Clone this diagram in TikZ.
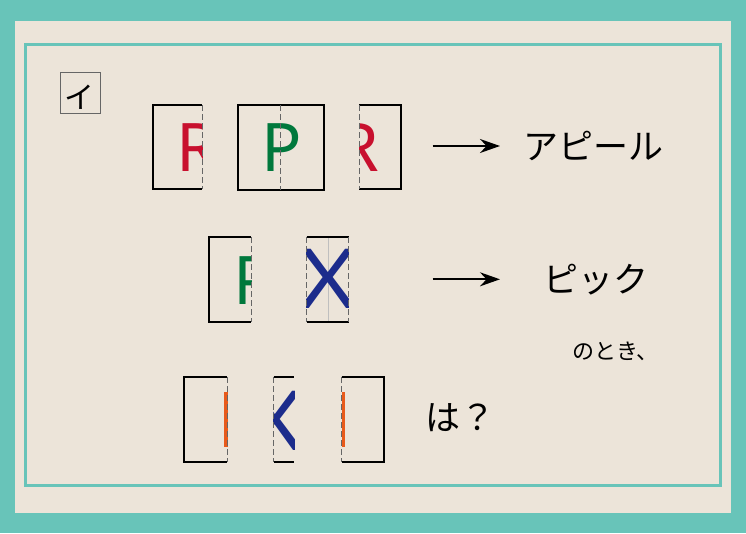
\documentclass[tikz,border=0pt]{standalone}
\usepackage{fontspec}
\setmainfont{Noto Sans}
\newfontfamily\jpfont{Noto Sans CJK JP}
\usepackage{tikz}
\usetikzlibrary{arrows.meta,positioning}
\definecolor{cteal}{HTML}{68C4B9}
\definecolor{cpaper}{HTML}{ECE4D9}
\definecolor{cr}{HTML}{C8102E}
\definecolor{cg}{HTML}{00783C}
\definecolor{cb}{HTML}{1C2C8C}
\definecolor{co}{HTML}{E85A1B}

\begin{document}
\begin{tikzpicture}[
  x=1pt,y=-1pt,>=Stealth,
  card/.style={black,line width=1.7pt},
  fold/.style={black!60,line width=0.8pt,dash pattern=on 6pt off 3pt},
  ltr/.style={inner sep=0pt,anchor=base west,font=\fontsize{67}{67}\selectfont},
  bigx/.style={inner sep=0pt,anchor=base,font=\fontsize{83}{83}\selectfont,cb},
  jp/.style={inner sep=0pt,anchor=west,font=\jpfont\fontsize{35}{35}\selectfont},
  jpsmall/.style={inner sep=0pt,anchor=west,font=\jpfont\fontsize{22}{22}\selectfont},
  edge/.style={-{Stealth[length=20pt,width=14pt]},line width=1.7pt}
]
  \useasboundingbox (0,0) rectangle (746,533);
  % Frame and paper
  \fill[cteal] (0,0) rectangle (746,533);
  \fill[cpaper] (15,21) rectangle (730.7,512.7);
  \draw[cteal,line width=3pt] (25,44) rectangle (720,485);

  % Label
  \node[draw=black!60,line width=0.7pt,minimum width=40.7pt,minimum height=40.6pt,inner sep=0pt] (lbl) at (80.3,93) {};
  \node[inner sep=0pt,font=\jpfont\fontsize{30}{30}\selectfont] (lbltxt) at (79.5,97) {イ};

  % Top row -- three cards
  \begin{scope}
    \clip (152.7,105) rectangle (202,189.3);
    \node[ltr,cr] (r1) at (176.5,171) {R};
  \end{scope}
  \draw[card] (202,105) -- (152.7,105) -- (152.7,189.3) -- (202,189.3);
  \draw[fold] (202,105) -- (202,189.3);

  \node[ltr,cg] (p1) at (261.7,171) {P};
  \draw[card] (237.7,105) rectangle (323.7,189.7);
  \draw[fold] (280.3,105) -- (280.3,189.7);

  \begin{scope}
    \clip (359.3,105) rectangle (401,189.3);
    \node[ltr,cr] (r2) at (337,171) {R};
  \end{scope}
  \draw[card] (359.3,105) -- (401,105) -- (401,189.3) -- (359.3,189.3);
  \draw[fold] (359.3,105) -- (359.3,189.3);

  % Middle row -- two cards
  \begin{scope}
    \clip (208.7,237.3) rectangle (251.3,322);
    \node[ltr,cg] (p2) at (233,304) {P};
  \end{scope}
  \draw[card] (251.3,237.3) -- (208.7,237.3) -- (208.7,322) -- (251.3,322);
  \draw[fold] (251.3,237.3) -- (251.3,322);

  \draw[black!25,line width=0.8pt] (328.3,237.3) -- (328.3,322);
  \begin{scope}
    \clip (306.7,237.3) rectangle (348.7,322);
    \node[bigx] (x1) at (328,308) {\scalebox{1.18}[1]{X}};
  \end{scope}
  \draw[card] (306.7,237.3) -- (348.7,237.3);
  \draw[card] (306.7,322) -- (348.7,322);
  \draw[fold] (306.7,237.3) -- (306.7,322);
  \draw[fold] (348.7,237.3) -- (348.7,322);

  % Bottom row -- three cards
  \fill[co] (224,391.7) rectangle (228.3,446.7);
  \draw[card] (227.3,377.3) -- (184.3,377.3) -- (184.3,462.3) -- (227.3,462.3);
  \draw[fold] (227.3,377.3) -- (227.3,462.3);

  \begin{scope}
    \clip (273.7,377.3) rectangle (294.3,462.3);
    \node[bigx] (x2) at (275.5,450) {\scalebox{1.18}[1]{X}};
  \end{scope}
  \draw[card] (273.7,377.3) -- (294.3,377.3);
  \draw[card] (273.7,462.3) -- (294.3,462.3);
  \draw[fold] (273.7,377.3) -- (273.7,462.3);

  \fill[co] (341.7,391.7) rectangle (345,446.7);
  \draw[card] (341.7,377.3) -- (384.3,377.3) -- (384.3,462.3) -- (341.7,462.3);
  \draw[fold] (341.7,377.3) -- (341.7,462.3);

  % Arrows and words
  \coordinate (a1s) at (432.7,146);
  \coordinate (a1e) at (500,146);
  \coordinate (a2s) at (432.7,279.3);
  \coordinate (a2e) at (500,279.3);
  \draw[edge] (a1s) -- (a1e);
  \draw[edge] (a2s) -- (a2e);
  \node[jp,right=23pt of a1e] (appeal) {アピール};
  \node[jp,right=43pt of a2e] (pick) {ピック};
  \node[jpsmall] (toki) at (572,351) {のとき、};
  \node[jp] (ha) at (425.5,418) {は？};
\end{tikzpicture}
\end{document}
